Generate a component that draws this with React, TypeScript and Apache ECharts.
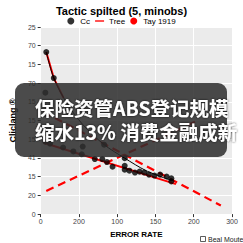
import React, { useEffect, useRef } from 'react';
import * as echarts from 'echarts';

const titleText = 'Tactic spilted (5, minobs)';
const xAxisTitle = 'ERROR RATE';
const yAxisTitle = 'Cliclang ®';
const xTickLabels = ['0', '200', '100', '150', '200', '300'];
const yTickLabels = ['0', '20', '15', '41', '15', '15', '15', '70', '15', '70', '25'];
const legendNames = ['Cc', 'Tree', 'Tay 1919'];
const bottomLegendText = 'Beal Moute';
const headline1 = '保险资管ABS登记规模';
const headline2 = '缩水13% 消费金融成新';

const ccPoints: number[][] = [
  [7.3, 86.6], [17.1, 72.7], [6.1, 64.9], [6.1, 53.6], [6.1, 43.3], [6.1, 38.7],
  [12.2, 37.6], [29.3, 35.6], [42.7, 33.5], [54.9, 36.1], [53.7, 32.0], [70.7, 29.4],
  [80.5, 29.4], [82.9, 37.1], [86.6, 27.8], [93.9, 25.3], [109.8, 29.9], [109.8, 25.8],
  [109.8, 23.7], [115.9, 23.2], [123.2, 22.2], [129.3, 22.7], [135.4, 22.2], [141.5, 21.1],
  [148.8, 20.6], [156.1, 21.1], [164.6, 20.1], [170.7, 19.1], [170.7, 17.5],
];
const ccPath: number[][] = [
  [7.3, 86.6], [17.1, 72.7], [34.1, 59.3], [54.9, 47.9], [82.9, 37.1],
  [109.8, 29.9], [137.8, 23.2], [170.7, 18.0],
];
const treeUpper: number[][] = [[7.3, 86.6], [17.1, 72.7], [30.0, 62.0]];
const treeLower: number[][] = [[3.7, 38.1], [176.8, 16.0]];
const tayRising: number[][] = [[7.3, 12.4], [204.9, 50.0]];
const tayFalling: number[][] = [[3.7, 54.6], [235.4, 4.6]];

const FONT = '"Liberation Sans", Arial, sans-serif';

export default function App() {
  const ref = useRef<HTMLDivElement>(null);
  useEffect(() => {
    if (!ref.current) return;
    const chart = echarts.init(ref.current, null, { renderer: 'svg' });
    const red = '#FF0000';
    chart.setOption({
      animation: false,
      backgroundColor: '#FFFFFF',
      title: {
        text: titleText,
        left: 'center',
        top: 0,
        textStyle: { fontSize: 11, fontWeight: 'bold', color: '#000', fontFamily: FONT },
      },
      legend: {
        top: 12,
        left: 'center',
        itemWidth: 9,
        itemHeight: 7,
        itemGap: 5,
        textStyle: { fontSize: 8, color: '#000', fontFamily: FONT },
        data: [
          { name: legendNames[0], icon: 'circle', itemStyle: { color: '#000' } },
          { name: legendNames[1], icon: 'path://M0 0h20v3H0z', itemStyle: { color: red } },
          { name: legendNames[2], icon: 'circle', itemStyle: { color: red } },
        ],
      },
      grid: {
        left: 27, right: 11, top: 27, bottom: 22,
        show: true, backgroundColor: '#EBEBEB', borderWidth: 0,
      },
      xAxis: {
        type: 'value', min: 0, max: 250, interval: 50,
        name: xAxisTitle, nameLocation: 'middle', nameGap: 13,
        nameTextStyle: { fontSize: 8, fontWeight: 'bold', color: '#000', fontFamily: FONT },
        axisLine: { show: false },
        axisTick: { show: true, length: 3, lineStyle: { color: '#333' } },
        axisLabel: {
          fontSize: 7, color: '#444444', margin: 4, fontFamily: FONT,
          formatter: (v: number) => xTickLabels[Math.round(v / 50)] ?? '',
        },
        splitLine: { show: true, lineStyle: { color: '#FFFFFF', width: 1 } },
      },
      yAxis: {
        type: 'value', min: 0, max: 100, interval: 10,
        name: yAxisTitle, nameLocation: 'middle', nameGap: 17, nameRotate: 90,
        nameTextStyle: { fontSize: 9, fontWeight: 'bold', color: '#000', fontFamily: FONT },
        axisLine: { show: false },
        axisTick: { show: true, length: 3, lineStyle: { color: '#333' } },
        axisLabel: {
          fontSize: 7, color: '#444444', margin: 5, fontFamily: FONT,
          formatter: (v: number) => yTickLabels[Math.round(v / 10)] ?? '',
        },
        splitLine: { show: true, lineStyle: { color: '#FFFFFF', width: 1 } },
      },
      series: [
        {
          name: legendNames[2], type: 'line', data: tayRising, showSymbol: false, z: 3,
          lineStyle: { color: red, width: 2.2, type: [8, 5] }, itemStyle: { color: red },
        },
        {
          name: legendNames[2], type: 'line', data: tayFalling, showSymbol: false, z: 3,
          lineStyle: { color: red, width: 2.2, type: [8, 5] }, itemStyle: { color: red },
        },
        {
          name: legendNames[1], type: 'line', data: treeUpper, showSymbol: false, z: 4,
          lineStyle: { color: red, width: 2 }, itemStyle: { color: red },
        },
        {
          name: legendNames[1], type: 'line', data: treeLower, showSymbol: false, z: 4,
          lineStyle: { color: red, width: 2 }, itemStyle: { color: red },
        },
        {
          name: 'Cc path', type: 'line', data: ccPath, showSymbol: false, smooth: 0.3, z: 5,
          lineStyle: { color: '#000', width: 1 }, itemStyle: { color: '#000' },
        },
        {
          name: legendNames[0], type: 'scatter', data: ccPoints, symbolSize: 6, z: 6,
          itemStyle: { color: '#000' },
        },
      ],
      graphic: [
        {
          type: 'rect', z: 100,
          shape: { x: 15, y: 83, width: 212, height: 74, r: 9 },
          style: { fill: 'rgba(45,45,45,0.86)' },
        },
        {
          type: 'text', z: 101, x: 35, y: 95,
          style: {
            text: headline1 + '\n' + headline2, fill: '#FFFFFF', fontSize: 19.5,
            fontWeight: 'bold', lineHeight: 24,
            fontFamily: '"Noto Sans CJK SC", sans-serif', verticalAlign: 'top',
            textShadowColor: 'rgba(0,0,0,0.8)', textShadowBlur: 2,
          },
        },
        {
          type: 'rect', z: 100,
          shape: { x: 200.5, y: 236.5, width: 5, height: 5 },
          style: { fill: '#FFFFFF', stroke: '#333', lineWidth: 0.8 },
        },
        {
          type: 'text', z: 100, x: 208, y: 239.5,
          style: {
            text: bottomLegendText, fill: '#222', fontSize: 7, fontFamily: FONT,
            verticalAlign: 'middle',
          },
        },
      ],
    });
    return () => chart.dispose();
  }, []);
  return <div ref={ref} style={{ position: 'fixed', left: 0, top: 0, width: 243, height: 243 }} />;
}
